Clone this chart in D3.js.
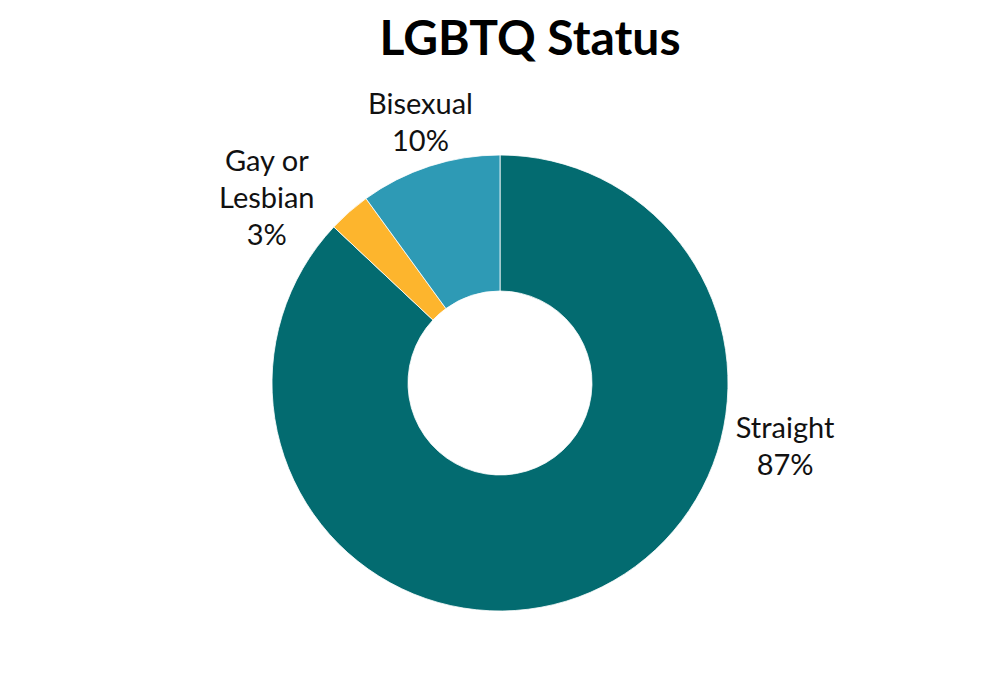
<head>
<script src="https://d3js.org/d3.v7.js"></script>
</head>
<body style="margin:0;background:#fff">
<div id="content"></div>
<script>
// chart data
const categories = ["Straight", "Gay or Lesbian", "Bisexual"];
const labelLines = [["Straight"], ["Gay or", "Lesbian"], ["Bisexual"]];
const values = [87, 3, 10];
const colors = ["#036b70", "#fdb52d", "#2e9ab5"];

const width = 1000,
      height = 680,
      cx = 500, cy = 383,
      outerR = 228, innerR = 92;

// where each label sits (degrees clockwise from top, distance from centre)
const labelAngle = [102.5, 308.5, 343],
      labelDist = [292, 298, 272],
      lineH = 37;

let svg = d3.select("#content").append("svg")
    .attr("width", width)
    .attr("height", height)
    .style("font-family", "Lato, 'Noto Sans', sans-serif");

svg.append("text")
    .attr("x", 530)
    .attr("y", 55)
    .attr("text-anchor", "middle")
    .attr("font-size", 48)
    .attr("font-weight", "bold")
    .attr("fill", "#000")
    .text("LGBTQ Status");

let pie = d3.pie().sort(null).value(d => d.value),
    arc = d3.arc().innerRadius(innerR).outerRadius(outerR);

let data = categories.map((c, i) => ({ name: c, value: values[i], color: colors[i], i: i }));

let g = svg.append("g").attr("transform", `translate(${cx},${cy})`);

g.selectAll("path")
  .data(pie(data))
  .enter()
  .append("path")
  .attr("d", arc)
  .attr("fill", d => d.data.color)
  .attr("stroke", "#fff")
  .attr("stroke-width", 0.8);

let labels = g.selectAll("text.lbl")
  .data(pie(data))
  .enter()
  .append("text")
  .attr("class", "lbl")
  .attr("text-anchor", "middle")
  .attr("font-size", 29)
  .attr("fill", "#111")
  .each(function(d) {
      let i = d.data.i,
          a = labelAngle[i] * Math.PI / 180,
          x = Math.sin(a) * labelDist[i],
          y = -Math.cos(a) * labelDist[i],
          lines = labelLines[i].concat([d.data.value + "%"]),
          y0 = y - (lines.length - 1) * lineH / 2 + 10;
      let t = d3.select(this);
      lines.forEach((s, k) => {
          t.append("tspan").attr("x", x).attr("y", y0 + k * lineH).text(s);
      });
  });
</script>
</body>
